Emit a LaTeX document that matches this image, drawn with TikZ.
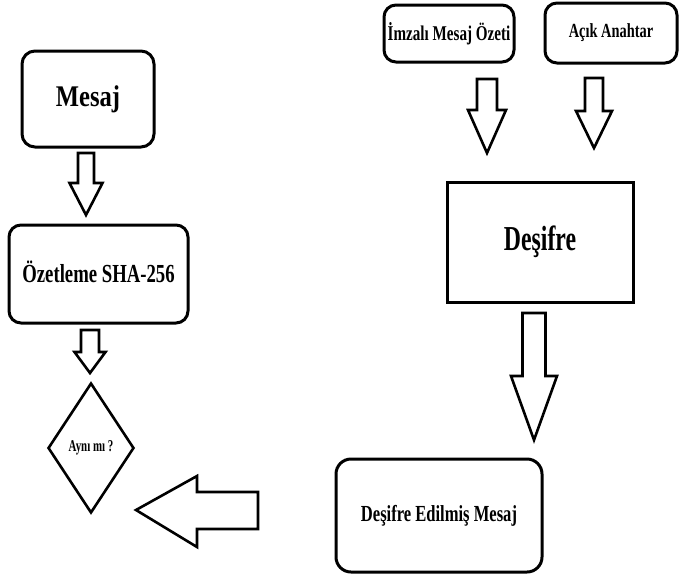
\documentclass[tikz,border=0pt]{standalone}
\usepackage{fontspec}
\setmainfont{Liberation Serif}
\usetikzlibrary{shapes.geometric}

% hollow block arrow pointing down: centre x, top y, neck y, tip y, half shaft, half head
\newcommand{\hollowdown}[6]{%
  \draw[blockarrow] (#1-#5,#2) -- (#1+#5,#2) -- (#1+#5,#3) -- (#1+#6,#3)
    -- (#1,#4) -- (#1-#6,#3) -- (#1-#5,#3) -- cycle;}

% bold, horizontally condensed label: [x-scale]{size}{text}
\newcommand{\narrowtext}[3][0.72]{\fontsize{#2}{#2}\selectfont\bfseries\scalebox{#1}[1]{#3}}

\begin{document}
\begin{tikzpicture}[x=1pt,y=-1pt,
  box/.style={draw, line width=3pt, rounded corners=13pt, inner sep=0pt},
  plainbox/.style={draw, line width=3pt, inner sep=0pt},
  decision/.style={draw, diamond, line width=2.6pt, inner sep=0pt, aspect=0.66},
  blockarrow/.style={draw, line width=2.6pt, fill=white, line join=miter}]
\useasboundingbox (0,0) rectangle (679,574);

% left column
\node[box, minimum width=132pt, minimum height=96pt] (mesaj) at (88,99) {\raisebox{5pt}{\narrowtext[0.82]{30}{Mesaj}}};
\node[box, minimum width=179pt, minimum height=98pt, rounded corners=12pt] (ozet) at (98.5,274) {\raisebox{4pt}{\narrowtext{26}{Özetleme SHA-256}}};
\node[decision, minimum width=86pt, minimum height=130pt] (ayni) at (91,448) {\narrowtext[0.66]{16.5}{Aynı mı ?}};

% right column
\node[box, minimum width=130pt, minimum height=57pt, rounded corners=12pt] (imza) at (449,33.5) {\narrowtext{21}{İmzalı Mesaj Özeti}};
\node[box, minimum width=132pt, minimum height=60pt, rounded corners=12pt] (anahtar) at (611,33) {\narrowtext{20}{Açık Anahtar}};
\node[plainbox, minimum width=186pt, minimum height=120pt] (desifre) at (540,242) {\raisebox{4pt}{\narrowtext[0.68]{35}{Deşifre}}};
\node[box, minimum width=206pt, minimum height=113pt, rounded corners=15pt] (cozulmus) at (439,515.5) {\narrowtext{23}{Deşifre Edilmiş Mesaj}};

% block arrows
\hollowdown{86}{153}{183}{215}{8}{16.5}
\hollowdown{90}{330}{352}{373}{9}{15.5}
\hollowdown{487}{79}{110}{153}{10}{19}
\hollowdown{594}{78}{111}{148}{9}{18}
\hollowdown{534}{313}{376}{440}{11.5}{23}
\draw[blockarrow] (258,492) -- (258,529) -- (197,529) -- (197,547)
  -- (136,510) -- (197,476) -- (197,492) -- cycle;
\end{tikzpicture}
\end{document}
